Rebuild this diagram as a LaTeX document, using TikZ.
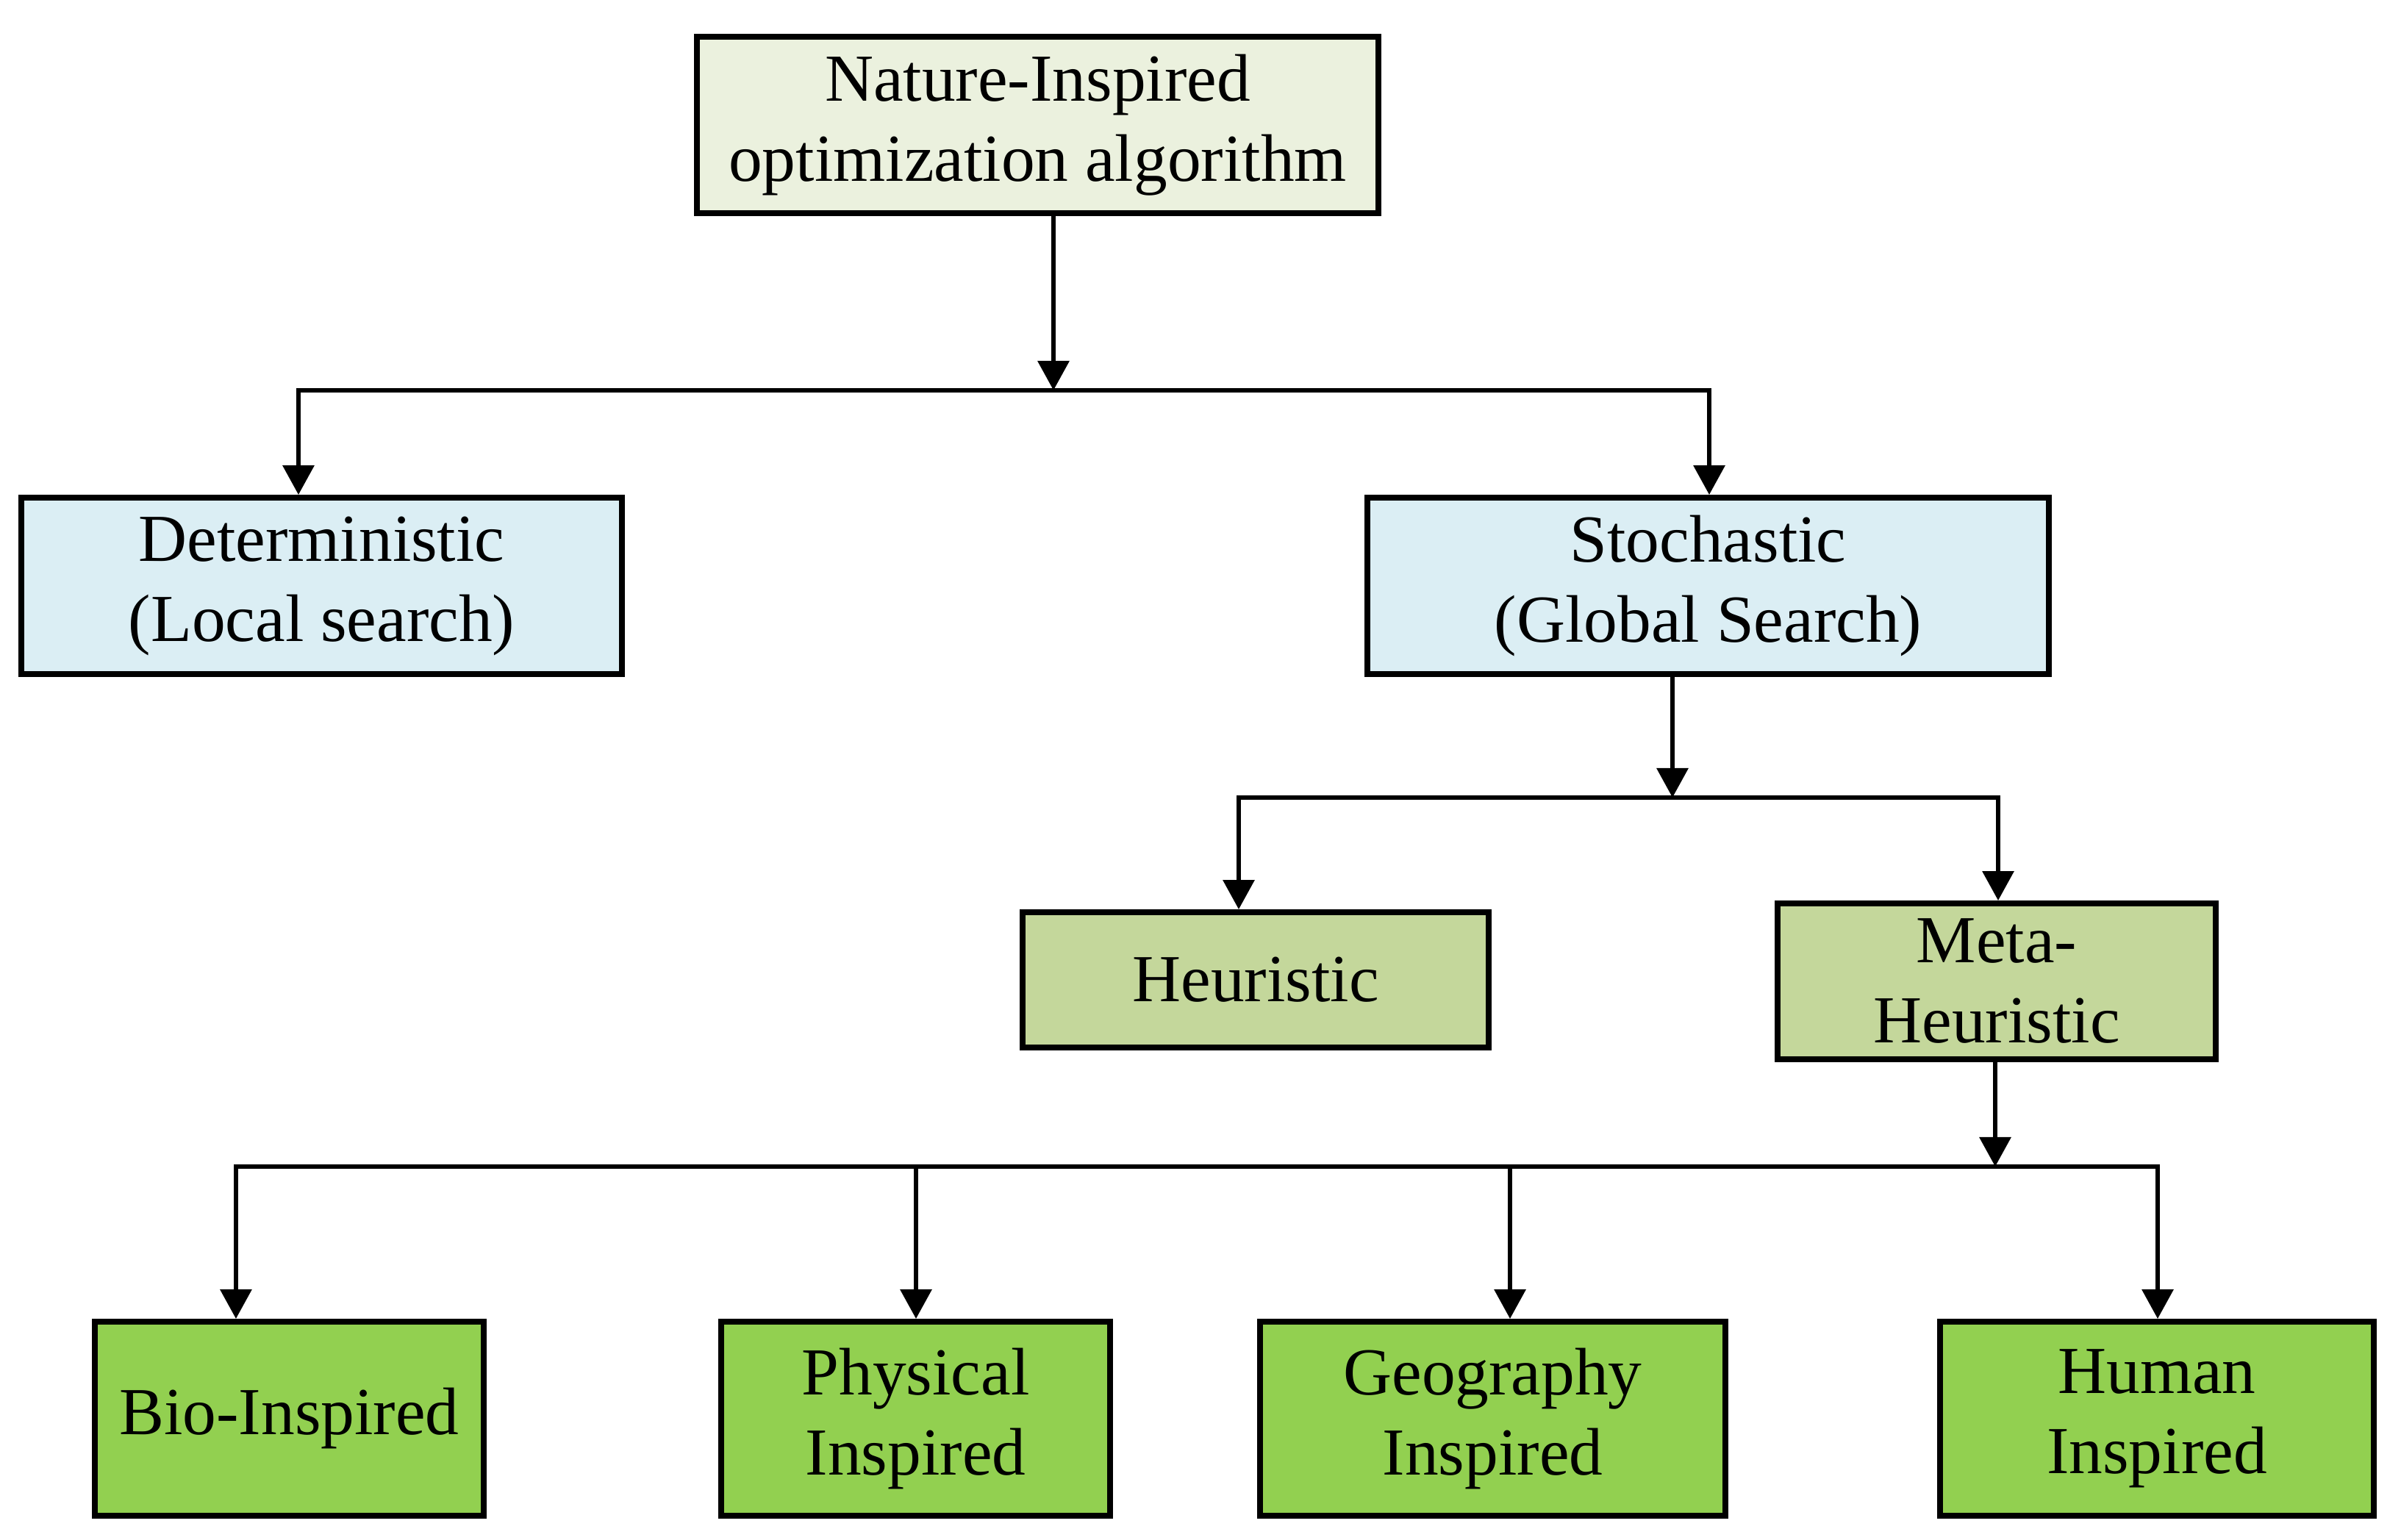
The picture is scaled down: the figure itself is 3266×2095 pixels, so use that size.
\documentclass[tikz,border=0pt]{standalone}
\usepackage{fontspec}
\setmainfont{Liberation Serif}
\usetikzlibrary{arrows.meta, positioning}

\definecolor{rootfill}{HTML}{EBF1DE}
\definecolor{searchfill}{HTML}{DBEEF4}
\definecolor{heurfill}{HTML}{C4D79B}
\definecolor{leaffill}{HTML}{92D050}

\tikzset{
  box/.style={draw=black, line width=2.2pt, align=center, inner sep=0pt,
    font=\fontsize{26}{31}\selectfont},
  arr/.style={-{Triangle[length=0.4cm, width=0.42cm]}, line width=1.8pt},
  line/.style={line width=1.8pt}
}

\begin{document}
\begin{tikzpicture}[x=0.01cm, y=-0.01cm]
        \useasboundingbox (0,0) rectangle (3266,2095);

        % Nodes
        \node[box, fill=rootfill, minimum width=9.27cm, minimum height=2.4cm] (root) at (1411.5,170) {Nature-Inspired\\optimization algorithm};
        \node[box, fill=searchfill, minimum width=8.17cm, minimum height=2.4cm] (det) at (437.5,797) {Deterministic\\(Local search)};
        \node[box, fill=searchfill, minimum width=9.27cm, minimum height=2.4cm] (sto) at (2323.5,797) {Stochastic\\(Global Search)};
        \node[box, fill=heurfill, minimum width=6.34cm, minimum height=1.84cm] (heu) at (1708,1333) {Heuristic};
        \node[box, fill=heurfill, minimum width=5.96cm, minimum height=2.12cm] (meta) at (2716,1335) {Meta-\\Heuristic};
        \node[box, fill=leaffill, minimum width=5.29cm, minimum height=2.64cm] (bio) at (393.5,1930) {Bio-Inspired};
        \node[box, fill=leaffill, minimum width=5.29cm, minimum height=2.64cm] (phy) at (1245.5,1930) {Physical\\Inspired};
        \node[box, fill=leaffill, minimum width=6.33cm, minimum height=2.64cm] (geo) at (2030.5,1930) {Geography\\Inspired};
        \node[box, fill=leaffill, minimum width=5.90cm, minimum height=2.64cm] (hum) at (2934,1930) {Human\\Inspired};

        % Junctions
        \coordinate (b1) at (1433,531);
        \coordinate (b2) at (2275,1085);
        \coordinate (b3) at (2714,1587);

        % Connectors
        \draw[arr] (root.south -| b1) -- (b1);
        \draw[arr] (b1) -| ([xshift=-0.315cm]det.north);
        \draw[arr] (b1) -| ([xshift=0.015cm]sto.north);

        \draw[arr] (sto.south -| b2) -- (b2);
        \draw[arr] (b2) -| ([xshift=-0.23cm]heu.north);
        \draw[arr] (b2) -| ([xshift=0.02cm]meta.north);

        \draw[arr] (meta.south -| b3) -- (b3);
        \foreach \leaf/\dx in {bio/-0.725cm, phy/0.005cm, geo/0.235cm, hum/0.01cm}
            \draw[arr] (b3) -| ([xshift=\dx]\leaf.north);
\end{tikzpicture}
\end{document}
